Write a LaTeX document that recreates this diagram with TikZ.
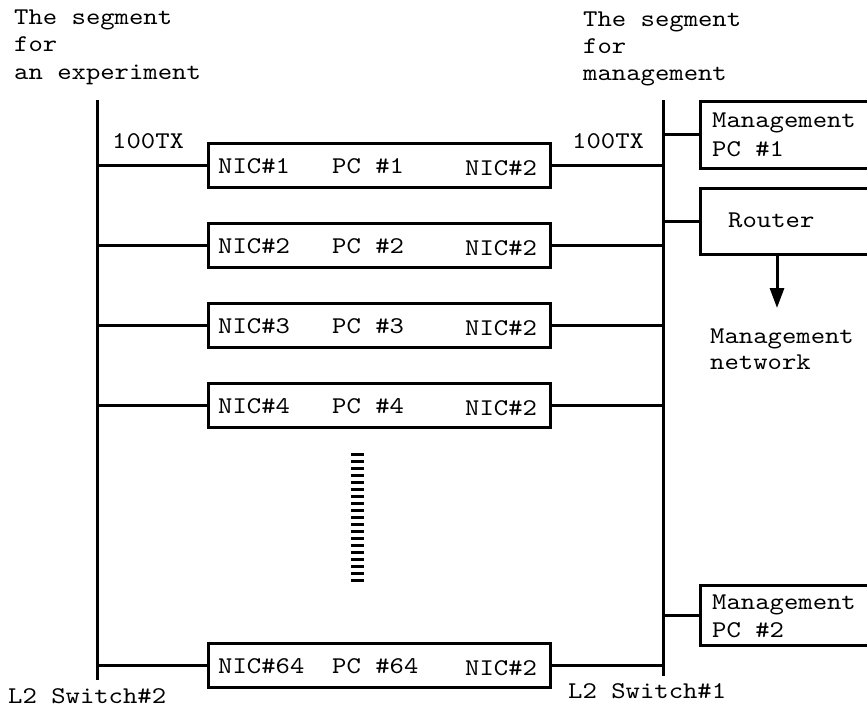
\documentclass[tikz,border=0pt]{standalone}
\usepackage{fontspec}
\setmonofont[FakeStretch=1.14]{lmmono10-regular.otf}
\usetikzlibrary{arrows.meta,positioning}
\tikzset{
  % the two switch buses and their links
  bus/.style={line width=3pt},
  link/.style={line width=3pt},
  % boxes for the machines
  box/.style={draw, line width=3pt, inner sep=0pt},
  pcbox/.style={box, minimum width=342pt, minimum height=44pt},
  mgbox/.style={box, minimum width=200pt, anchor=west},
  % typewriter labels
  lbl/.style={font=\ttfamily\fontsize{24}{27}\selectfont, inner sep=0pt, anchor=base west},
  % arrow to the management network
  down/.style={-{Triangle[length=20pt,width=14pt]}, line width=3pt},
}

\begin{document}
\begin{tikzpicture}[x=1pt,y=-1pt]
  \useasboundingbox (0,0) rectangle (867,717);
  \clip (0,0) rectangle (867,717);
  % segment captions
  \foreach \t [count=\n] in {The segment,for,an experiment}
    \node[lbl] (expcap\n) at (14,{25+27*(\n-1)}) {\t};
  \foreach \t [count=\n] in {The segment,for,management}
    \node[lbl] (mgcap\n) at (583,{27+27*(\n-1)}) {\t};
  % switch buses
  \coordinate (sw2top) at (97,100);
  \coordinate (sw2bot) at (97,680);
  \coordinate (sw1top) at (663,100);
  \coordinate (sw1bot) at (663,676);
  \draw[bus] (sw2top) -- (sw2bot);
  \draw[bus] (sw1top) -- (sw1bot);
  \node[lbl] (sw2) at (8,703) {L2 Switch\#2};
  \node[lbl] (sw1) at (568,698) {L2 Switch\#1};
  \node[lbl] (tx2) at (112,148) {100TX};
  \node[lbl] (tx1) at (572,148) {100TX};
  % experiment PCs
  \foreach \i/\y in {1/165,2/245,3/325,4/405,64/665} {
    \node[pcbox] (pc\i) at (379,\y) {};
    \node[lbl] (nica\i) at (218,\y+8) {NIC\#\i};
    \node[lbl] (pcname\i) at (332,\y+8) {PC \#\i};
    \node[lbl] (nicb\i) at (465,\y+10) {NIC\#2};
    \coordinate (l\i) at (97,\y);
    \coordinate (r\i) at (663,\y);
    \draw[link] (l\i) -- (pc\i.west);
    \draw[link] (pc\i.east) -- (r\i);
  }
  % ellipsis between PC #4 and PC #64
  \foreach \k in {0,...,18}
    \draw[line width=3pt] (351,454+7*\k) -- (364,454+7*\k);
  % management side
  \node[mgbox, minimum height=67pt] (mpc1) at (699,134.5) {};
  \node[lbl] (mpc1a) at (712,127) {Management};
  \node[lbl] (mpc1b) at (712,156) {PC \#1};
  \node[mgbox, minimum height=66pt] (router) at (699,221) {};
  \node[lbl] (routertxt) at (728,227) {Router};
  \node[mgbox, minimum height=60pt] (mpc2) at (699,615) {};
  \node[lbl] (mpc2a) at (712,609) {Management};
  \node[lbl] (mpc2b) at (712,637) {PC \#2};
  \coordinate (m1) at (663,134.5);
  \coordinate (m2) at (663,221);
  \coordinate (m3) at (663,615);
  \draw[link] (m1) -- (mpc1.west);
  \draw[link] (m2) -- (router.west);
  \draw[link] (m3) -- (mpc2.west);
  \coordinate (mgnet) at (777,308);
  \draw[down] (router.south -| mgnet) -- (mgnet);
  \node[lbl] (mgneta) at (710,343) {Management};
  \node[lbl] (mgnetb) at (710,369) {network};
\end{tikzpicture}
\end{document}
